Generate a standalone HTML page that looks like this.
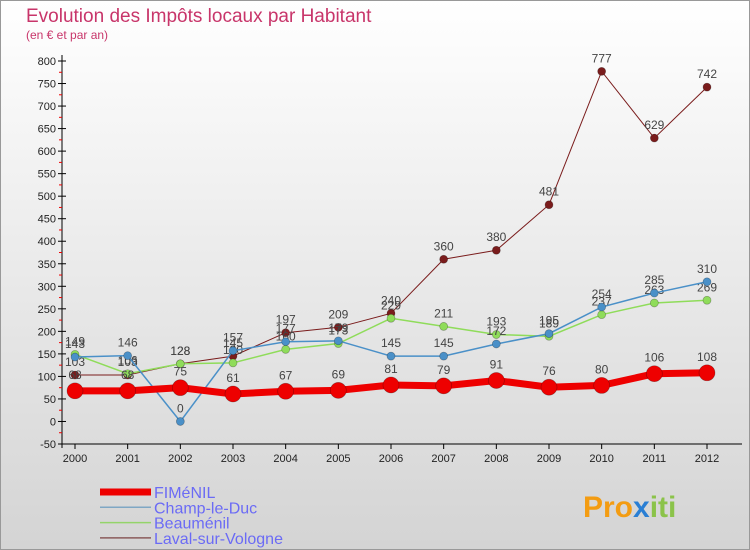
<!DOCTYPE html>
<html><head><meta charset="utf-8"><style>
body{margin:0;width:750px;height:550px;overflow:hidden;font-family:"Liberation Sans","DejaVu Sans",sans-serif;}
#wrap{position:relative;width:748px;height:548px;border:1px solid #999;background:linear-gradient(#ffffff,#d4d4d4);}
</style></head><body>
<div id="wrap">
<svg id="chart" width="750" height="550" style="position:absolute;left:-1px;top:-1px">
<text x="26" y="22" font-size="19" fill="#c8356a">Evolution des Impôts locaux par Habitant</text>
<text x="26" y="39" font-size="12" fill="#c8356a">(en € et par an)</text>
<g id="axes"></g><g id="series"></g><g id="legend"></g>
<text x="583" y="517" font-size="30" font-weight="bold" fill="#f39c12">Pro<tspan fill="#2a7fd4">x</tspan><tspan fill="#8bc34a">iti</tspan></text>
</svg></div>
<script>
const years=[2000,2001,2002,2003,2004,2005,2006,2007,2008,2009,2010,2011,2012];
const fimenil=[68,68,75,61,67,69,81,79,91,76,80,106,108];
const champ=[143,146,0,157,177,179,145,145,172,195,254,285,310];
const beaumenil=[149,106,128,130,160,173,229,211,193,189,237,263,269];
const laval=[103,103,128,145,197,209,240,360,380,481,777,629,742];
const yTicks=[-50,0,50,100,150,200,250,300,350,400,450,500,550,600,650,700,750,800];
const NS='http://www.w3.org/2000/svg';
const X=i=>75+i*(707-75)/(years.length-1);
const Y=v=>444-(v+50)*(444-61)/850;
function mk(t,a,p){const e=document.createElementNS(NS,t);for(const k in a)e.setAttribute(k,a[k]);p.appendChild(e);return e;}
const ax=document.getElementById('axes');
let l=mk('line',{x1:62,y1:55,x2:62,y2:448,stroke:'#000'},ax);

l=mk('line',{x1:62,y1:444,x2:742,y2:444,stroke:'#000'},ax);

yTicks.forEach((v,i)=>{const y=Y(v);mk('line',{x1:58,y1:y,x2:66,y2:y,stroke:'#000'},ax);
 if(i<yTicks.length-1){const ym=Y(v+25);mk('line',{x1:59,y1:ym,x2:62,y2:ym,stroke:'#e00'},ax);}
 const t=mk('text',{x:56,y:y+4,'font-size':11,'text-anchor':'end',fill:'#222'},ax);t.textContent=v;
 });
years.forEach((yr,i)=>{const x=X(i);mk('line',{x1:x,y1:444,x2:x,y2:449,stroke:'#000'},ax);
 const t=mk('text',{x:x,y:462,'font-size':11,'text-anchor':'middle',fill:'#222'},ax);t.textContent=yr;
 });
const S=[{d:laval,c:'#7a1c1c',w:1,r:4,n:'Laval-sur-Vologne'},{d:beaumenil,c:'#8fdc5a',w:1.5,r:4,n:'Beauménil'},{d:champ,c:'#4a90c8',w:1.5,r:4,n:'Champ-le-Duc'},{d:fimenil,c:'#ee0000',w:7,r:8,n:'FIMéNIL'}];
const sg=document.getElementById('series');
S.forEach(s=>{const g=mk('g',{},sg);
 const p=mk('polyline',{points:s.d.map((v,i)=>X(i)+','+Y(v)).join(' '),fill:'none',stroke:s.c,'stroke-width':s.w},g);
 
 s.d.forEach((v,i)=>{const c=mk('circle',{cx:X(i),cy:Y(v),r:s.r,fill:s.c,stroke:'rgba(0,0,0,0.3)','stroke-width':0.7},g);
  
  const t=mk('text',{x:X(i),y:Y(v)-9-(s.r>5?3:0),'font-size':12,'text-anchor':'middle',fill:'#444'},g);t.textContent=v;
  });});
const lg=document.getElementById('legend');
const lc=['#ee0000','#7fa7c4','#94d46a','#8a5a5a'];
[S[3],S[2],S[1],S[0]].forEach((s,i)=>{const y=492+i*15.3;
 const g=mk('g',{},lg);
 mk('line',{x1:100,y1:y,x2:151,y2:y,stroke:lc[i],'stroke-width':i==0?7:1.5},g);
 const t=mk('text',{x:154,y:y+6,'font-size':16,fill:'#6b6bf5'},g);t.textContent=s.n;});
</script></body></html>
